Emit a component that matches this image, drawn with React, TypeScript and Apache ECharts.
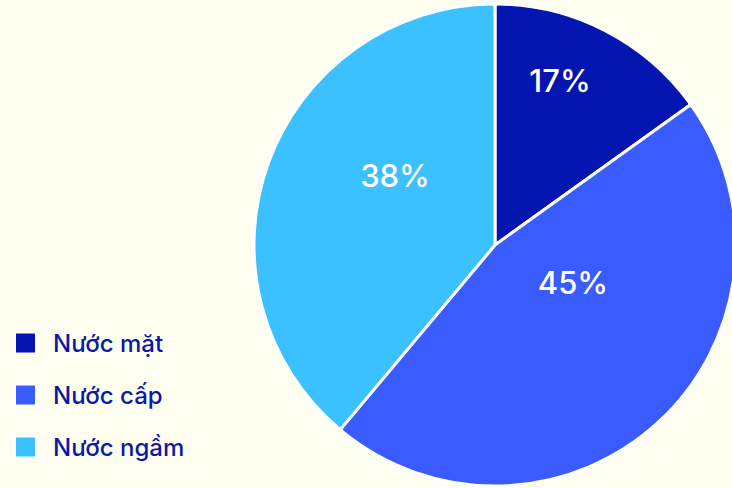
import React, { useEffect, useRef } from "react";
import * as echarts from "echarts";

const categories = ["Nước mặt", "Nước cấp", "Nước ngầm"];
const shareValues = [15.1, 46.0, 38.9];
const shareLabels = ["17%", "45%", "38%"];
const sliceColors = ["#0415B0", "#3A5BFF", "#3BC1FF"];

export default function App() {
  const ref = useRef<HTMLDivElement>(null);
  useEffect(() => {
    if (!ref.current) return;
    const chart = echarts.init(ref.current, null, { renderer: "svg" });
    const labelPos: Record<number, [number, number]> = {
      0: [560, 80],
      1: [573, 282],
      2: [395, 175],
    };
    chart.setOption({
      animation: false,
      backgroundColor: "#FEFFF1",
      legend: {
        orient: "vertical",
        left: 14,
        top: 331,
        padding: 0,
        itemWidth: 21,
        itemHeight: 21,
        itemGap: 28,
        icon: "rect",
        data: categories,
        textStyle: {
          color: "#0A1AA8",
          fontFamily: "Inter",
          fontSize: 24,
          fontWeight: 500,
          letterSpacing: -0.5,
          padding: [0, 0, 0, 12],
        },
        selectedMode: false,
      },
      series: [
        {
          type: "pie",
          center: [495, 245],
          radius: [0, 241],
          startAngle: 90,
          clockwise: true,
          itemStyle: { borderColor: "#FFFFFF", borderWidth: 3, borderRadius: 3 },
          emphasis: { disabled: true },
          label: {
            show: true,
            position: "inside",
            color: "#FFFFFF",
            fontFamily: "Inter",
            fontSize: 31,
            fontWeight: 500,
            formatter: (p: any) => shareLabels[p.dataIndex],
          },
          labelLine: { show: false },
          labelLayout: (p: any) => ({ x: labelPos[p.dataIndex][0], y: labelPos[p.dataIndex][1], align: "center", verticalAlign: "middle" }),
          data: categories.map((name, i) => ({
            name,
            value: shareValues[i],
            itemStyle: { color: sliceColors[i] },
          })),
        },
      ],
    });
    return () => chart.dispose();
  }, []);
  return (
    <div
      ref={ref}
      style={{ position: "fixed", left: 0, top: 0, width: 732, height: 488 }}
    />
  );
}
